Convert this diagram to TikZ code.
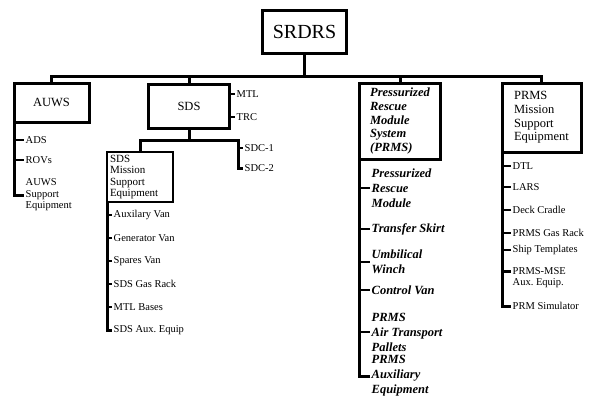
\documentclass[tikz,border=0pt]{standalone}
\usepackage{fontspec}
\setmainfont{Liberation Serif}
\usepackage{tikz}
\usetikzlibrary{positioning}
\tikzset{mainbox/.style = {draw, line width = 3pt, inner sep = 0, align = center}}
\tikzset{subbox/.style = {draw, line width = 1.8pt, inner xsep = 3pt, inner ysep = 0, align = left}}
\tikzset{link/.style = {line width = 3pt}}
\tikzset{stub/.style = {line width = 2.2pt}}
\tikzset{item/.style = {anchor = west, inner sep = 1.5pt, align = left, font = \fontsize{10.5}{11.5}\selectfont}}
\tikzset{bolditem/.style = {item, inner ysep = 0.5pt, font = \fontsize{12.5}{15}\selectfont\bfseries\itshape}}
\newcommand{\boxfont}{\fontsize{12.5}{13.7}\selectfont}

\begin{document}
\begin{tikzpicture}[x = 1pt, y = -1pt]
    \useasboundingbox (0, 0) rectangle (590, 408);

    \node [mainbox, minimum width = 84, minimum height = 43, font = \fontsize{20}{22}\selectfont] (srdrs) at (304.5, 31.5) {SRDRS};
    \node [mainbox, minimum width = 75, minimum height = 39, font = \boxfont] (auws) at (51.5, 102.5) {AUWS};
    \node [mainbox, minimum width = 81, minimum height = 44, font = \boxfont] (sds) at (189, 106) {SDS};
    \node [mainbox, minimum width = 81, minimum height = 76, align = left, font = \boxfont\bfseries\itshape] (prms) at (400, 121)
        {Pressurized\\Rescue\\Module\\System\\(PRMS)};
    \node [mainbox, minimum width = 79, minimum height = 69, align = left, font = \boxfont] (prmsmse) at (541.5, 117.5)
        {PRMS\\Mission\\Support\\Equipment};
    \node [subbox, text width = 60, minimum height = 50, font = \fontsize{11}{11.5}\selectfont] (sdsmse) at (140, 177)
        {SDS\\Mission\\Support\\Equipment};

    \coordinate (bus) at (0, 76);
    \draw [link] (srdrs.south) -- (srdrs.south |- bus);
    \draw [link] (auws.north) |- (prmsmse.north |- bus) -- (prmsmse.north);
    \draw [link] (sds.north) -- (sds.north |- bus);
    \draw [link] (prms.north) -- (prms.north |- bus);

    % SDS branches
    \node [item] (mtl) at (235, 94) {MTL};
    \node [item] (trc) at (235, 117) {TRC};
    \draw [stub] (sds.east |- mtl) -- (mtl.west);
    \draw [stub] (sds.east |- trc) -- (trc.west);

    \node [item] (sdc1) at (243, 148) {SDC-1};
    \node [item] (sdc2) at (243, 168) {SDC-2};
    \coordinate (sdsbar) at (238, 140);
    \draw [link] (sds.south) -- (sds.south |- sdsbar);
    \draw [link] (sdsmse.north) |- (sdsbar) |- (sdc2.west);
    \draw [stub] (sdsbar |- sdc1) -- (sdc1.west);

    % AUWS list
    \node [item] (ads) at (24, 140) {ADS};
    \node [item] (rovs) at (24, 160) {ROVs};
    \node [item] (auwseq) at (24, 195) {AUWS\\Support\\Equipment};
    \coordinate (auwsspine) at ([xshift = 1.5pt]auws.south west);
    \draw [link] (auwsspine) |- (auwseq.west);
    \foreach \n in {ads, rovs}
        \draw [stub] (auwsspine |- \n) -- (\n.west);

    % SDS support list
    \node [item] (auxvan) at (112, 215) {Auxilary Van};
    \node [item] (genvan) at (112, 238) {Generator Van};
    \node [item] (sparesvan) at (112, 261) {Spares Van};
    \node [item] (sdsgas) at (112, 284) {SDS Gas Rack};
    \node [item] (mtlbases) at (112, 307) {MTL Bases};
    \node [item] (sdsaux) at (112, 330) {SDS Aux.\ Equip};
    \coordinate (sdsspine) at ([xshift = 0.9pt]sdsmse.south west);
    \draw [link] (sdsspine) |- (sdsaux.west);
    \foreach \n in {auxvan, genvan, sparesvan, sdsgas, mtlbases}
        \draw [stub] (sdsspine |- \n) -- (\n.west);

    % PRMS list
    \node [bolditem] (prm) at (370, 188) {Pressurized\\Rescue\\Module};
    \node [bolditem] (skirt) at (370, 229) {Transfer Skirt};
    \node [bolditem] (winch) at (370, 262) {Umbilical\\Winch};
    \node [bolditem] (ctrlvan) at (370, 290) {Control Van};
    \node [bolditem] (pallets) at (370, 332) {PRMS\\Air Transport\\Pallets};
    \node [bolditem] (prmsaux) at (370, 376) {PRMS\\Auxiliary\\Equipment};
    \coordinate (prmsspine) at ([xshift = 1.5pt]prms.south west);
    \draw [link] (prmsspine) |- (prmsaux.west);
    \foreach \n in {prm, skirt, winch, ctrlvan, pallets}
        \draw [stub] (prmsspine |- \n) -- (\n.west);

    % PRMS support list
    \node [item] (dtl) at (511, 166) {DTL};
    \node [item] (lars) at (511, 187) {LARS};
    \node [item] (cradle) at (511, 210) {Deck Cradle};
    \node [item] (prmsgas) at (511, 233) {PRMS Gas Rack};
    \node [item] (ship) at (511, 250) {Ship Templates};
    \node [item] (mseaux) at (511, 277.5) {PRMS-MSE\\Aux.\ Equip.};
    \node [item] (prmsim) at (511, 306) {PRM Simulator};
    \coordinate (msespine) at ([xshift = 1.5pt]prmsmse.south west);
    \coordinate (mseauxtop) at ([yshift = -6pt]mseaux.north west);
    \draw [link] (msespine) |- (prmsim.west);
    \foreach \n in {dtl, lars, cradle, prmsgas, ship}
        \draw [stub] (msespine |- \n) -- (\n.west);
    \draw [stub] (msespine |- mseauxtop) -- (mseauxtop);
\end{tikzpicture}
\end{document}
